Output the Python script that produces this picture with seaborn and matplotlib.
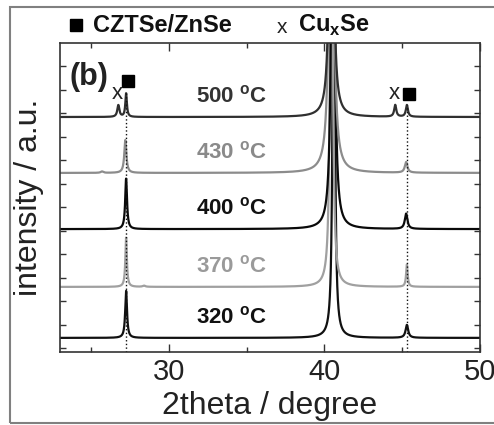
import numpy as np
import pandas as pd
import matplotlib
matplotlib.use("Agg")
import matplotlib.pyplot as plt
import seaborn as sns
from matplotlib.patches import Rectangle

# ---------------- data ----------------
samples = ["320", "370", "400", "430", "500"]
offsets = [0.43, 2.60, 5.06, 7.45, 9.83]
line_colors = ["#111111", "#a0a0a0", "#0a0a0a", "#8c8c8c", "#303030"]
label_colors = ["#111111", "#9a9a9a", "#111111", "#8a8a8a", "#333333"]

# peak parameters per sample: positions (2theta), heights (a.u.), half widths
peak_pos = [
    [27.25, 40.60, 45.30],
    [27.25, 40.45, 45.30, 28.40],
    [27.25, 40.55, 45.25],
    [27.20, 40.45, 45.25, 25.70],
    [26.75, 27.25, 40.45, 44.55, 45.30],
]
peak_height = [
    [2.00, 25.0, 0.55],
    [2.10, 25.0, 0.95, 0.05],
    [2.15, 25.0, 0.65],
    [1.40, 25.0, 0.45, 0.06],
    [0.50, 1.00, 25.0, 0.50, 0.50],
]
peak_hw = [
    [0.07, 0.07, 0.10],
    [0.06, 0.08, 0.06, 0.10],
    [0.07, 0.10, 0.10],
    [0.08, 0.12, 0.10, 0.10],
    [0.08, 0.06, 0.10, 0.08, 0.08],
]

xticks = [30, 40, 50]
xminor = [25, 35, 45]
xlim = (23, 50)
ylim = (-0.17, 12.98)

# ---------------- build long table ----------------
tt = np.linspace(xlim[0], xlim[1], 5401)
frames = []
for s, off, pp, hh, ww in zip(samples, offsets, peak_pos, peak_height, peak_hw):
    y = np.full_like(tt, off)
    for p, h, w in zip(pp, hh, ww):
        y = y + h * w**2 / ((tt - p) ** 2 + w**2)
    frames.append(pd.DataFrame({"two_theta": tt, "intensity": y, "sample": s}))
df = pd.concat(frames, ignore_index=True)

# ---------------- plot ----------------
sns.set_style("ticks")
plt.rcParams["font.family"] = ["Liberation Sans", "DejaVu Sans"]
plt.rcParams["mathtext.fontset"] = "custom"
plt.rcParams["mathtext.rm"] = "Liberation Sans:bold"
plt.rcParams["mathtext.bf"] = "Liberation Sans:bold"

fig = plt.figure(figsize=(4.94, 4.25), dpi=100)
ax = fig.add_axes([60 / 494, 1 - 352 / 425, 420 / 494, 309 / 425])

sns.lineplot(data=df, x="two_theta", y="intensity", hue="sample",
             hue_order=samples, palette=dict(zip(samples, line_colors)),
             sort=False, estimator=None, linewidth=1.6, legend=False, ax=ax)

# dotted reference lines
ax.vlines([27.25], ylim[0], 10.85, colors="#111111", linestyles=":", linewidth=1.0)
ax.vlines([45.30], ylim[0], 10.33, colors="#111111", linestyles=":", linewidth=1.0)

# temperature labels
for s, off, c in zip(samples, offsets, label_colors):
    ax.text(34.05, off + 0.86, s + r" $^{\mathbf{o}}$C", ha="center", va="center",
            fontsize=16, fontweight="bold", color=c)

# phase markers inside
ax.text(26.68, 10.81, "x", ha="center", va="center", fontsize=16, color="#222222")
ax.plot([27.39], [11.36], marker="s", markersize=8, color="#000000", linestyle="none")
ax.text(44.48, 10.85, "x", ha="center", va="center", fontsize=16, color="#222222")
ax.plot([45.45], [10.81], marker="s", markersize=8, color="#000000", linestyle="none")

ax.text(23.6, 11.55, "(b)", ha="left", va="center", fontsize=22, fontweight="bold",
        color="#222222")

# header above the axes
ax.plot([24.03], [13.74], marker="s", markersize=8, color="#000000",
        linestyle="none", clip_on=False)
ax.text(25.13, 13.74, "CZTSe/ZnSe", ha="left", va="center", fontsize=17,
        fontweight="bold", color="#111111", clip_on=False)
ax.text(37.26, 13.66, "x", ha="center", va="center", fontsize=15,
        color="#222222", clip_on=False)
ax.text(38.29, 13.74, r"Cu$_{\mathbf{x}}$Se", ha="left", va="center", fontsize=17,
        fontweight="bold", color="#111111", clip_on=False)

# axes styling
ax.set_xlim(*xlim)
ax.set_ylim(*ylim)
ax.set_xticks(xticks)
ax.set_xticks(xminor, minor=True)
ax.set_yticks(np.arange(0, 13))
ax.set_yticklabels([])
ax.tick_params(axis="both", which="both", direction="in", top=True, right=True,
               color="#333333", width=1.0)
ax.tick_params(axis="x", which="major", length=6, labelsize=21, pad=4,
               labelcolor="#222222")
ax.tick_params(axis="x", which="minor", length=3.5)
ax.tick_params(axis="y", which="major", length=4)
for sp in ax.spines.values():
    sp.set_visible(True)
    sp.set_color("#333333")
    sp.set_linewidth(1.2)

ax.set_xlabel("2theta / degree", fontsize=23, color="#222222", labelpad=4)
ax.set_ylabel("intensity / a.u.", fontsize=23, color="#222222", labelpad=8)

# outer frame around the figure
fig.add_artist(Rectangle((10 / 494, 2 / 425), 1.0, 416 / 425,
                         transform=fig.transFigure, fill=False,
                         edgecolor="#808080", linewidth=1.5))

fig.savefig("out.png", dpi=100)
